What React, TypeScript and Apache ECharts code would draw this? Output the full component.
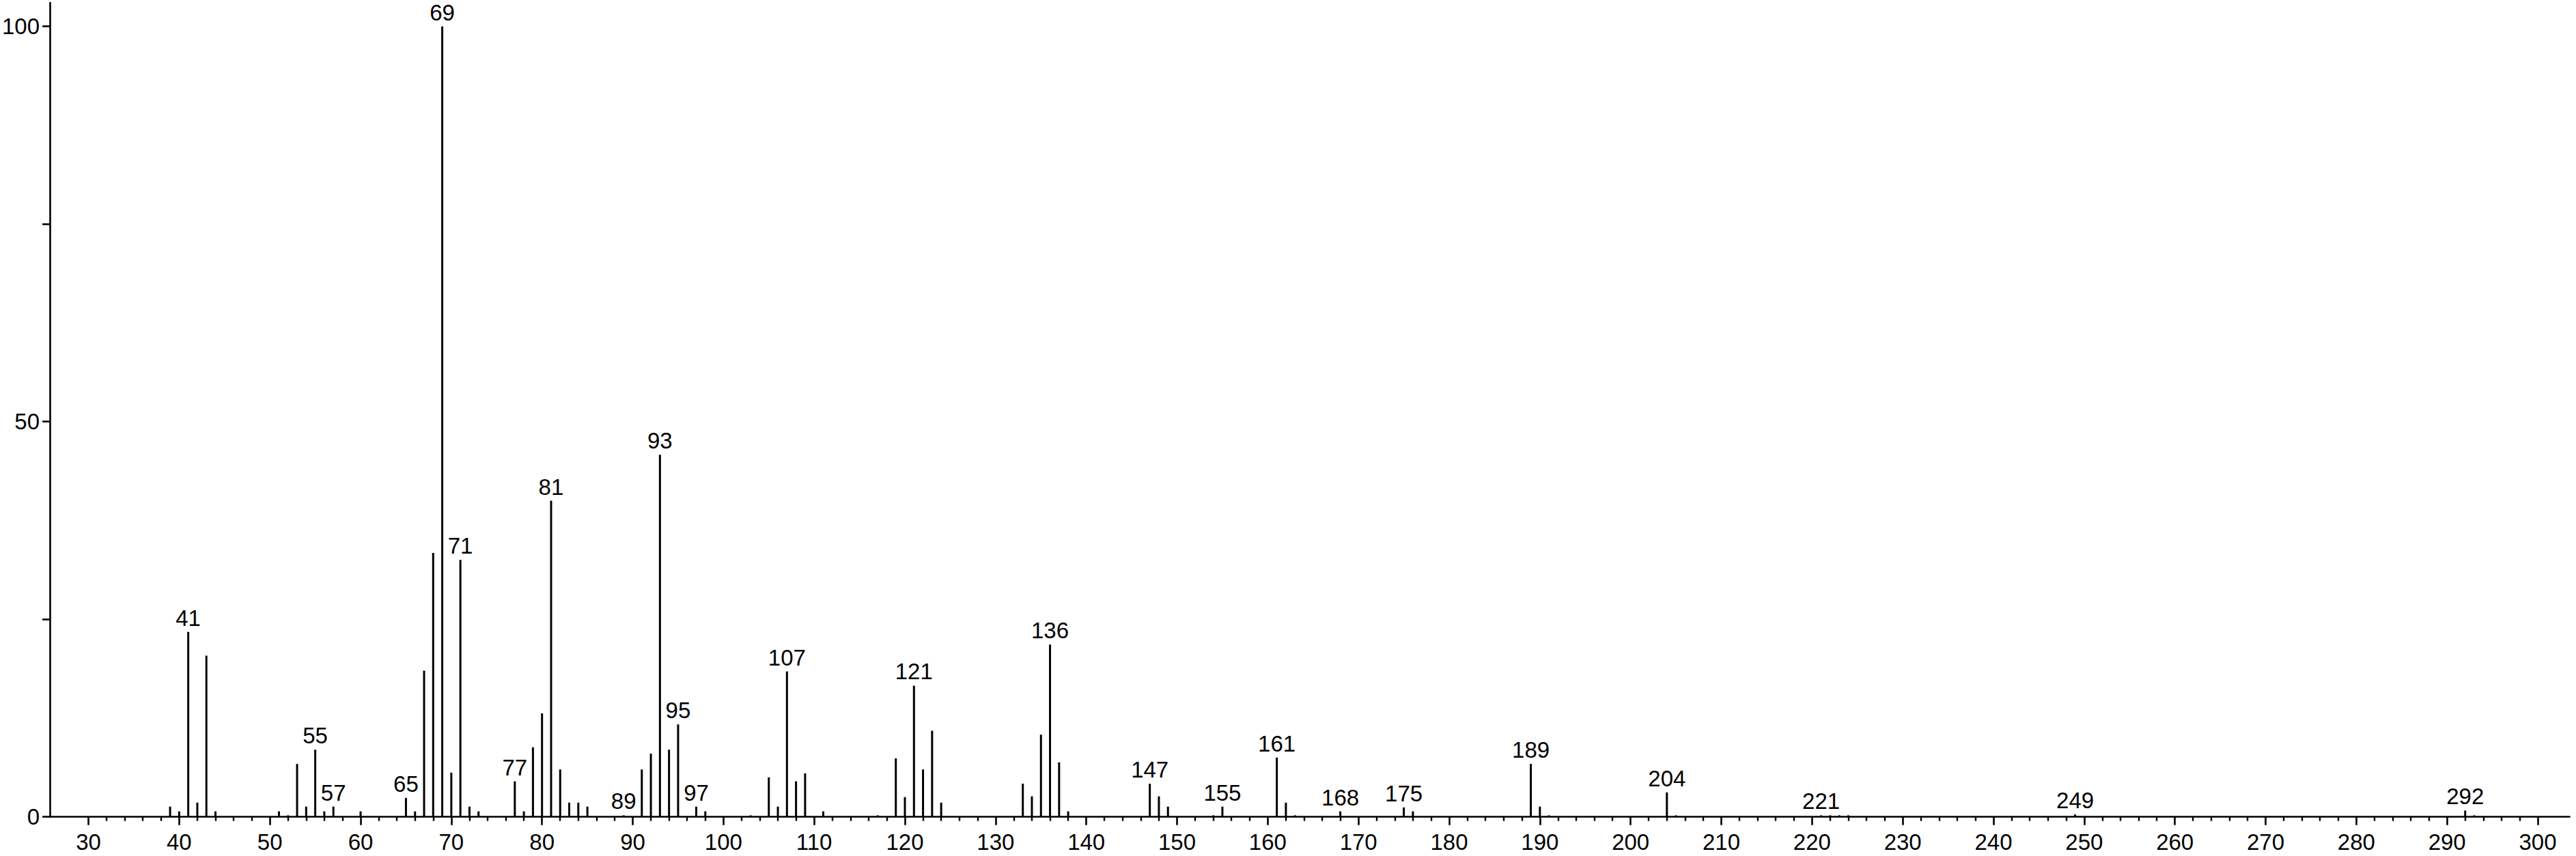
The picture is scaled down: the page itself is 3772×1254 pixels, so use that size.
import React, { useEffect, useRef } from "react";
import * as echarts from "echarts";

// m/z values and relative intensities (%)
const MZ = [
  39, 40, 41, 42, 43, 44, 51, 52, 53, 54, 55, 56, 57, 60, 65, 66, 67, 68, 69, 70,
  71, 72, 73, 77, 78, 79, 80, 81, 82, 83, 84, 85, 89, 91, 92, 93, 94, 95, 97, 98,
  103, 105, 106, 107, 108, 109, 111, 117, 119, 120, 121, 122, 123, 124, 133, 134,
  135, 136, 137, 138, 147, 148, 149, 154, 155, 161, 162, 163, 168, 175, 176, 189,
  190, 191, 204, 205, 221, 222, 223, 224, 249, 292, 293,
];
const INTENSITY = [
  1.3, 0.7, 23.4, 1.8, 20.4, 0.7, 0.7, 0.2, 6.7, 1.3, 8.5, 0.7, 1.3, 0.7, 2.4, 0.7, 18.5, 33.4, 100, 5.6,
  32.5, 1.3, 0.7, 4.5, 0.7, 8.8, 13.1, 40.0, 6.0, 1.8, 1.8, 1.3, 0.2, 6.0, 8.0, 45.8, 8.5, 11.7, 1.3, 0.7,
  0.2, 5.0, 1.3, 18.4, 4.5, 5.5, 0.7, 0.2, 7.4, 2.5, 16.6, 6.0, 10.9, 1.8, 4.2, 2.6,
  10.4, 21.8, 6.9, 0.7, 4.2, 2.6, 1.3, 0.2, 1.3, 7.5, 1.8, 0.2, 0.7, 1.2, 0.7, 6.7,
  1.3, 0.2, 3.1, 0.2, 0.2, 0.2, 0.2, 0.2, 0.3, 0.8, 0.2,
];
const LABELED = [
  41, 55, 57, 65, 69, 71, 77, 81, 89, 93, 95, 97, 107, 121, 136, 147, 155, 161, 168,
  175, 189, 204, 221, 249, 292,
];

const X_MAJOR_TICKS = [30, 40, 50, 60, 70, 80, 90, 100, 110, 120, 130, 140, 150, 160, 170, 180, 190, 200, 210, 220, 230, 240, 250, 260, 270, 280, 290, 300];
const X_MINOR_STEP = 2;
const Y_TICKS = [0, 25, 50, 75, 100];
const Y_LABELS = [0, 50, 100];

const X_MIN = 25.75;
const X_MAX = 303.5;
const Y_MAX = 103;

export default function App() {
  const ref = useRef<HTMLDivElement>(null);

  useEffect(() => {
    if (!ref.current) return;
    const chart = echarts.init(ref.current, null, { renderer: "svg" });

    const minorTicks: number[] = [];
    for (let v = X_MAJOR_TICKS[0]; v < X_MAJOR_TICKS[X_MAJOR_TICKS.length - 1]; v += X_MINOR_STEP) {
      if (!X_MAJOR_TICKS.includes(v)) minorTicks.push(v);
    }

    const data = MZ.map((m, i) => {
      const item: any = { value: [m, INTENSITY[i]] };
      if (LABELED.includes(m)) item.label = { show: true };
      return item;
    });

    const font = "Liberation Sans, Arial, sans-serif";

    chart.setOption({
      animation: false,
      backgroundColor: "#ffffff",
      grid: { left: 68.5, right: 9.5, top: 4, bottom: 57.3, containLabel: false },
      xAxis: [
        {
          type: "value",
          min: X_MIN,
          max: X_MAX,
          position: "bottom",
          axisLine: { show: true, onZero: false, lineStyle: { color: "#000", width: 2.6 } },
          axisTick: {
            show: true,
            inside: false,
            length: 12,
            lineStyle: { color: "#000", width: 2.6 },
            customValues: X_MAJOR_TICKS,
          },
          axisLabel: {
            show: true,
            margin: 20,
            color: "#000",
            fontSize: 33,
            fontFamily: font,
            customValues: X_MAJOR_TICKS,
          },
          splitLine: { show: false },
        },
        {
          type: "value",
          min: X_MIN,
          max: X_MAX,
          position: "bottom",
          axisLine: { show: false },
          axisTick: {
            show: true,
            inside: false,
            length: 6,
            lineStyle: { color: "#000", width: 2.4 },
            customValues: minorTicks,
          },
          axisLabel: { show: false },
          splitLine: { show: false },
        },
      ],
      yAxis: {
        type: "value",
        min: 0,
        max: Y_MAX,
        axisLine: { show: true, onZero: false, lineStyle: { color: "#000", width: 2.6 } },
        axisTick: {
          show: true,
          inside: false,
          length: 11,
          lineStyle: { color: "#000", width: 2.6 },
          customValues: Y_TICKS,
        },
        axisLabel: {
          show: true,
          margin: 15,
          color: "#000",
          fontSize: 33,
          fontFamily: font,
          customValues: Y_LABELS,
        },
        splitLine: { show: false },
      },
      series: [
        {
          type: "bar",
          xAxisIndex: 0,
          yAxisIndex: 0,
          barWidth: 3,
          itemStyle: { color: "#000" },
          label: {
            show: false,
            position: "top",
            distance: 4,
            color: "#000",
            fontSize: 33,
            fontFamily: font,
            formatter: (p: any) => String(p.value[0]),
          },
          data,
        },
      ],
    });

    return () => chart.dispose();
  }, []);

  return (
    <div
      ref={ref}
      style={{ position: "absolute", left: 0, top: 0, width: 3772, height: 1254, background: "#fff" }}
    />
  );
}
